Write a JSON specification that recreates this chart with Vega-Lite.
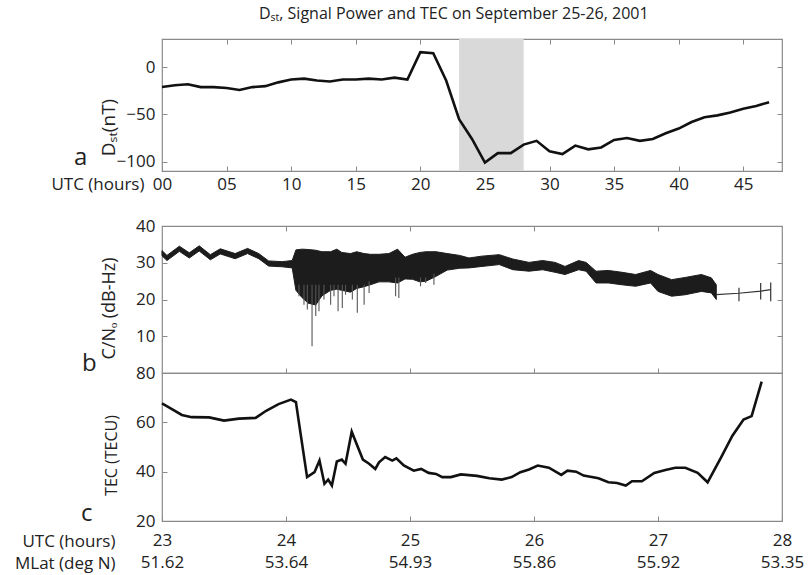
{
  "$schema": "https://vega.github.io/schema/vega-lite/v6.json",
  "background": "white",
  "padding": {"left": 13, "top": 5, "right": 5, "bottom": 5},
  "title": {"text": "Dₛₜ, Signal Power and TEC on September 25-26, 2001", "anchor": "start", "frame": "group", "dx": 97, "offset": 3, "baseline": "alphabetic", "fontSize": 16, "fontWeight": "normal", "font": "Open Sans", "color": "#222"},
  "config": {
    "font": "Open Sans",
    "view": {"stroke": "#8a8a8a", "strokeWidth": 1.2},
    "axis": {"domain": false, "grid": false, "tickColor": "#8a8a8a", "tickSize": -5, "labelFontSize": 17, "labelColor": "#222", "titleColor": "#222", "titleFontWeight": "normal", "labelFont": "Open Sans", "titleFont": "Open Sans", "labelFlush": false, "labelOverlap": false}
  },
  "spacing": 55,
  "bounds": "flush",
  "vconcat": [
    {
      "width": 620,
      "height": 132,
      "title": {"text": "a", "anchor": "start", "frame": "group", "orient": "top", "offset": 0, "dx": -88, "dy": 150, "baseline": "alphabetic", "fontSize": 24, "fontWeight": "normal", "color": "#222"},
      "layer": [
        {
          "data": {"values": [{"start": 23, "end": 28}]},
          "mark": {"type": "rect", "color": "#d9d9d9"},
          "encoding": {
            "x": {"field": "start", "type": "quantitative", "scale": {"domain": [0, 48], "nice": false}, "axis": {"orient": "top", "labels": false, "title": null, "values": [5, 10, 15, 20, 25, 30, 35, 40, 45]}},
            "x2": {"field": "end"},
            "y": {"datum": 30, "type": "quantitative", "axis": {"orient": "right", "labels": false, "title": null, "values": [-100, -50, 0]}},
            "y2": {"datum": -110}
          }
        },
        {
          "data": {"values": [
            {"h": 0, "dst": -21}, {"h": 1, "dst": -19}, {"h": 2, "dst": -18}, {"h": 3, "dst": -21}, {"h": 4, "dst": -21}, {"h": 5, "dst": -22},
            {"h": 6, "dst": -24}, {"h": 7, "dst": -21}, {"h": 8, "dst": -20}, {"h": 9, "dst": -16}, {"h": 10, "dst": -13}, {"h": 11, "dst": -12},
            {"h": 12, "dst": -14}, {"h": 13, "dst": -15}, {"h": 14, "dst": -13}, {"h": 15, "dst": -13}, {"h": 16, "dst": -12}, {"h": 17, "dst": -13},
            {"h": 18, "dst": -11}, {"h": 19, "dst": -13}, {"h": 20, "dst": 16}, {"h": 21, "dst": 15}, {"h": 22, "dst": -14}, {"h": 23, "dst": -55},
            {"h": 24, "dst": -76}, {"h": 25, "dst": -101}, {"h": 26, "dst": -91}, {"h": 27, "dst": -91}, {"h": 28, "dst": -82}, {"h": 29, "dst": -78},
            {"h": 30, "dst": -89}, {"h": 31, "dst": -92}, {"h": 32, "dst": -83}, {"h": 33, "dst": -87}, {"h": 34, "dst": -85}, {"h": 35, "dst": -77},
            {"h": 36, "dst": -75}, {"h": 37, "dst": -78}, {"h": 38, "dst": -76}, {"h": 39, "dst": -70}, {"h": 40, "dst": -65}, {"h": 41, "dst": -58},
            {"h": 42, "dst": -53}, {"h": 43, "dst": -51}, {"h": 44, "dst": -48}, {"h": 45, "dst": -44}, {"h": 46, "dst": -41}, {"h": 47, "dst": -37}
          ]},
          "mark": {"type": "line", "color": "#111", "strokeWidth": 2.6},
          "encoding": {
            "x": {"field": "h", "type": "quantitative", "scale": {"domain": [0, 48], "nice": false},
                  "axis": {"orient": "bottom", "values": [0, 5, 10, 15, 20, 25, 30, 35, 40, 45], "format": "02d", "labelBaseline": "middle", "labelPadding": 18,
                           "title": "UTC (hours)", "titleFontSize": 17, "titleAlign": "right", "titleBaseline": "middle", "titleX": -18, "titleY": 13}},
            "y": {"field": "dst", "type": "quantitative", "scale": {"domain": [-110, 30], "nice": false},
                  "axis": {"orient": "left", "values": [-100, -50, 0], "labelPadding": 12,
                           "title": "Dₛₜ(nT)", "titleFontSize": 19, "titleAlign": "center", "titleBaseline": "middle", "titleX": -54, "titleY": 88, "titleAngle": -90}}
          }
        }
      ],
      "resolve": {"axis": {"x": "independent", "y": "independent"}}
    },
    {
      "spacing": 0,
      "bounds": "flush",
      "vconcat": [
        {
          "width": 620,
          "height": 147,
          "title": {"text": "b", "anchor": "start", "frame": "group", "orient": "top", "offset": 0, "dx": -80, "dy": 178, "baseline": "alphabetic", "fontSize": 24, "fontWeight": "normal", "color": "#222"},
          "layer": [
            {
              "data": {"values": [
                {"t": 23.00, "lo": 31.9, "hi": 33.3}, {"t": 23.04, "lo": 30.6, "hi": 32.0}, {"t": 23.14, "lo": 33.1, "hi": 34.5},
                {"t": 23.22, "lo": 31.3, "hi": 32.7}, {"t": 23.30, "lo": 33.2, "hi": 34.6}, {"t": 23.39, "lo": 30.8, "hi": 32.2},
                {"t": 23.47, "lo": 32.4, "hi": 33.8}, {"t": 23.59, "lo": 31.1, "hi": 32.5}, {"t": 23.69, "lo": 32.5, "hi": 33.9},
                {"t": 23.78, "lo": 31.1, "hi": 32.5}, {"t": 23.86, "lo": 29.1, "hi": 30.5}, {"t": 23.97, "lo": 28.9, "hi": 30.3},
                {"t": 24.05, "lo": 28.6, "hi": 30.6}, {"t": 24.08, "lo": 22.5, "hi": 33.5}, {"t": 24.13, "lo": 20.5, "hi": 33.7},
                {"t": 24.18, "lo": 19.0, "hi": 33.6}, {"t": 24.24, "lo": 18.5, "hi": 33.4}, {"t": 24.29, "lo": 21.0, "hi": 33.0},
                {"t": 24.36, "lo": 22.5, "hi": 33.0}, {"t": 24.41, "lo": 22.8, "hi": 33.7}, {"t": 24.45, "lo": 22.5, "hi": 32.8},
                {"t": 24.52, "lo": 22.0, "hi": 32.5}, {"t": 24.57, "lo": 23.0, "hi": 33.0}, {"t": 24.63, "lo": 23.5, "hi": 32.5},
                {"t": 24.68, "lo": 24.0, "hi": 32.3}, {"t": 24.75, "lo": 24.8, "hi": 32.3}, {"t": 24.83, "lo": 24.8, "hi": 32.5},
                {"t": 24.90, "lo": 24.5, "hi": 33.7}, {"t": 24.96, "lo": 25.6, "hi": 31.5}, {"t": 25.02, "lo": 25.5, "hi": 32.3},
                {"t": 25.08, "lo": 24.8, "hi": 32.8}, {"t": 25.13, "lo": 25.0, "hi": 33.0}, {"t": 25.21, "lo": 26.3, "hi": 33.0},
                {"t": 25.30, "lo": 28.0, "hi": 32.5}, {"t": 25.40, "lo": 28.5, "hi": 32.0}, {"t": 25.476, "lo": 28.6, "hi": 31.3},
                {"t": 25.58, "lo": 29.0, "hi": 31.8}, {"t": 25.72, "lo": 29.5, "hi": 32.2}, {"t": 25.83, "lo": 28.1, "hi": 31.0},
                {"t": 25.96, "lo": 27.7, "hi": 30.1}, {"t": 26.07, "lo": 28.1, "hi": 30.6}, {"t": 26.17, "lo": 27.4, "hi": 30.1},
                {"t": 26.25, "lo": 26.8, "hi": 29.0}, {"t": 26.36, "lo": 28.1, "hi": 30.6}, {"t": 26.42, "lo": 27.7, "hi": 30.1},
                {"t": 26.50, "lo": 24.5, "hi": 27.7}, {"t": 26.60, "lo": 24.5, "hi": 27.9}, {"t": 26.71, "lo": 24.0, "hi": 27.4},
                {"t": 26.82, "lo": 23.6, "hi": 26.8}, {"t": 26.94, "lo": 24.5, "hi": 27.9}, {"t": 27.00, "lo": 22.2, "hi": 26.8},
                {"t": 27.11, "lo": 20.9, "hi": 25.4}, {"t": 27.22, "lo": 21.3, "hi": 26.0}, {"t": 27.35, "lo": 22.2, "hi": 26.8},
                {"t": 27.43, "lo": 21.8, "hi": 25.9}, {"t": 27.47, "lo": 20.0, "hi": 24.0}
              ]},
              "mark": {"type": "area", "color": "#1c1c1c", "stroke": "#1c1c1c", "strokeWidth": 1},
              "encoding": {
                "x": {"field": "t", "type": "quantitative", "scale": {"domain": [23, 28], "nice": false},
                      "axis": {"orient": "bottom", "labels": false, "title": null, "values": [24, 25, 26, 27]}},
                "y": {"field": "lo", "type": "quantitative", "scale": {"domain": [0, 40], "nice": false},
                      "axis": {"orient": "left", "values": [10, 20, 30, 40], "labelPadding": 12,
                               "title": "C/Nₒ (dB-Hz)", "titleFontSize": 18, "titleAlign": "center", "titleBaseline": "middle", "titleX": -53, "titleY": 82, "titleAngle": -90}},
                "y2": {"field": "hi"}
              }
            },
            {
              "data": {"values": [
                {"t": 24.105, "lo": 20.9, "hi": 24}, {"t": 24.145, "lo": 18.6, "hi": 24}, {"t": 24.172, "lo": 17.3, "hi": 24},
                {"t": 24.21, "lo": 7.3, "hi": 24}, {"t": 24.24, "lo": 15.5, "hi": 24}, {"t": 24.266, "lo": 16.8, "hi": 24},
                {"t": 24.306, "lo": 20.0, "hi": 24}, {"t": 24.36, "lo": 18.6, "hi": 24}, {"t": 24.387, "lo": 20.9, "hi": 24},
                {"t": 24.42, "lo": 16.8, "hi": 24}, {"t": 24.454, "lo": 17.7, "hi": 24}, {"t": 24.48, "lo": 21.3, "hi": 24},
                {"t": 24.535, "lo": 20.0, "hi": 24}, {"t": 24.575, "lo": 16.4, "hi": 24}, {"t": 24.63, "lo": 18.6, "hi": 24},
                {"t": 24.67, "lo": 21.8, "hi": 25}, {"t": 24.884, "lo": 20.9, "hi": 26}, {"t": 24.91, "lo": 20.4, "hi": 26},
                {"t": 25.085, "lo": 23.6, "hi": 26}, {"t": 25.126, "lo": 24.5, "hi": 26}, {"t": 25.193, "lo": 24.0, "hi": 27}
              ]},
              "mark": {"type": "rule", "color": "#555", "strokeWidth": 1.1},
              "encoding": {
                "x": {"field": "t", "type": "quantitative", "axis": null},
                "y": {"field": "lo", "type": "quantitative", "axis": null},
                "y2": {"field": "hi"}
              }
            },
            {
              "data": {"values": [{"t": 27.47, "v": 21.3}, {"t": 27.65, "v": 21.7}, {"t": 27.83, "v": 22.3}, {"t": 27.91, "v": 22.7}]},
              "mark": {"type": "line", "color": "#333", "strokeWidth": 1.2},
              "encoding": {
                "x": {"field": "t", "type": "quantitative", "axis": {"orient": "top", "labels": false, "title": null, "values": [24, 25, 26, 27]}},
                "y": {"field": "v", "type": "quantitative", "axis": {"orient": "right", "labels": false, "title": null, "values": [10, 20, 30]}}
              }
            },
            {
              "data": {"values": [{"t": 27.653, "lo": 19.5, "hi": 23.2}, {"t": 27.828, "lo": 20.0, "hi": 24.5}, {"t": 27.909, "lo": 19.5, "hi": 24.6}]},
              "mark": {"type": "rule", "color": "#333", "strokeWidth": 1.2},
              "encoding": {
                "x": {"field": "t", "type": "quantitative", "axis": null},
                "y": {"field": "lo", "type": "quantitative", "axis": null},
                "y2": {"field": "hi"}
              }
            }
          ],
          "resolve": {"axis": {"x": "independent", "y": "independent"}}
        },
        {
          "width": 620,
          "height": 148,
          "title": {"text": "c", "anchor": "start", "frame": "group", "orient": "top", "offset": 0, "dx": -81, "dy": 181, "baseline": "alphabetic", "fontSize": 24, "fontWeight": "normal", "color": "#222"},
          "data": {"values": [
            {"t": 23.00, "tec": 67.7}, {"t": 23.08, "tec": 65.4}, {"t": 23.16, "tec": 63.0}, {"t": 23.24, "tec": 62.1}, {"t": 23.38, "tec": 62.0},
            {"t": 23.50, "tec": 60.7}, {"t": 23.62, "tec": 61.5}, {"t": 23.755, "tec": 61.8}, {"t": 23.84, "tec": 64.7}, {"t": 23.94, "tec": 67.4},
            {"t": 24.04, "tec": 69.2}, {"t": 24.08, "tec": 68.2}, {"t": 24.12, "tec": 54.6}, {"t": 24.17, "tec": 37.8}, {"t": 24.23, "tec": 39.8},
            {"t": 24.27, "tec": 44.5}, {"t": 24.31, "tec": 35.1}, {"t": 24.34, "tec": 36.8}, {"t": 24.37, "tec": 34.4}, {"t": 24.41, "tec": 44.1},
            {"t": 24.45, "tec": 44.9}, {"t": 24.48, "tec": 43.2}, {"t": 24.53, "tec": 56.2}, {"t": 24.58, "tec": 49.9}, {"t": 24.62, "tec": 44.9},
            {"t": 24.67, "tec": 43.2}, {"t": 24.72, "tec": 41.1}, {"t": 24.75, "tec": 43.8}, {"t": 24.80, "tec": 45.9}, {"t": 24.857, "tec": 44.5},
            {"t": 24.89, "tec": 45.4}, {"t": 24.95, "tec": 42.5}, {"t": 25.03, "tec": 40.4}, {"t": 25.09, "tec": 41.1}, {"t": 25.15, "tec": 39.5},
            {"t": 25.21, "tec": 39.1}, {"t": 25.26, "tec": 37.8}, {"t": 25.33, "tec": 37.8}, {"t": 25.41, "tec": 38.9}, {"t": 25.54, "tec": 38.3},
            {"t": 25.64, "tec": 37.3}, {"t": 25.74, "tec": 36.8}, {"t": 25.82, "tec": 37.8}, {"t": 25.89, "tec": 39.8}, {"t": 25.96, "tec": 40.9},
            {"t": 26.03, "tec": 42.5}, {"t": 26.12, "tec": 41.6}, {"t": 26.22, "tec": 38.7}, {"t": 26.27, "tec": 40.4}, {"t": 26.34, "tec": 40.0},
            {"t": 26.40, "tec": 38.4}, {"t": 26.52, "tec": 37.3}, {"t": 26.60, "tec": 35.7}, {"t": 26.67, "tec": 35.4}, {"t": 26.74, "tec": 34.4},
            {"t": 26.79, "tec": 36.1}, {"t": 26.87, "tec": 36.1}, {"t": 26.97, "tec": 39.5}, {"t": 27.06, "tec": 40.7}, {"t": 27.14, "tec": 41.6},
            {"t": 27.22, "tec": 41.6}, {"t": 27.32, "tec": 39.5}, {"t": 27.40, "tec": 35.7}, {"t": 27.51, "tec": 45.9}, {"t": 27.60, "tec": 54.6},
            {"t": 27.69, "tec": 61.1}, {"t": 27.755, "tec": 62.5}, {"t": 27.836, "tec": 76.5}
          ]},
          "mark": {"type": "line", "color": "#111", "strokeWidth": 2.6},
          "encoding": {
            "x": {"field": "t", "type": "quantitative", "scale": {"domain": [23, 28], "nice": false},
                  "axis": {"orient": "bottom", "values": [23, 24, 25, 26, 27, 28], "labelBaseline": "top", "labelPadding": 16, "labelLineHeight": 22,
                           "labelExpr": "[datum.label, datum.value == 23 ? '51.62' : datum.value == 24 ? '53.64' : datum.value == 25 ? '54.93' : datum.value == 26 ? '55.86' : datum.value == 27 ? '55.92' : '53.35']",
                           "title": ["UTC (hours)", "MLat (deg N)"], "titleFontSize": 17, "titleLineHeight": 22, "titleAlign": "right", "titleBaseline": "top", "titleX": -47, "titleY": 12}},
            "y": {"field": "tec", "type": "quantitative", "scale": {"domain": [20, 80], "nice": false},
                  "axis": {"orient": "left", "values": [20, 40, 60, 80], "labelPadding": 12,
                           "title": "TEC (TECU)", "titleFontSize": 16, "titleAlign": "center", "titleBaseline": "middle", "titleX": -51, "titleY": 82, "titleAngle": -90}}
          }
        }
      ]
    }
  ]
}
